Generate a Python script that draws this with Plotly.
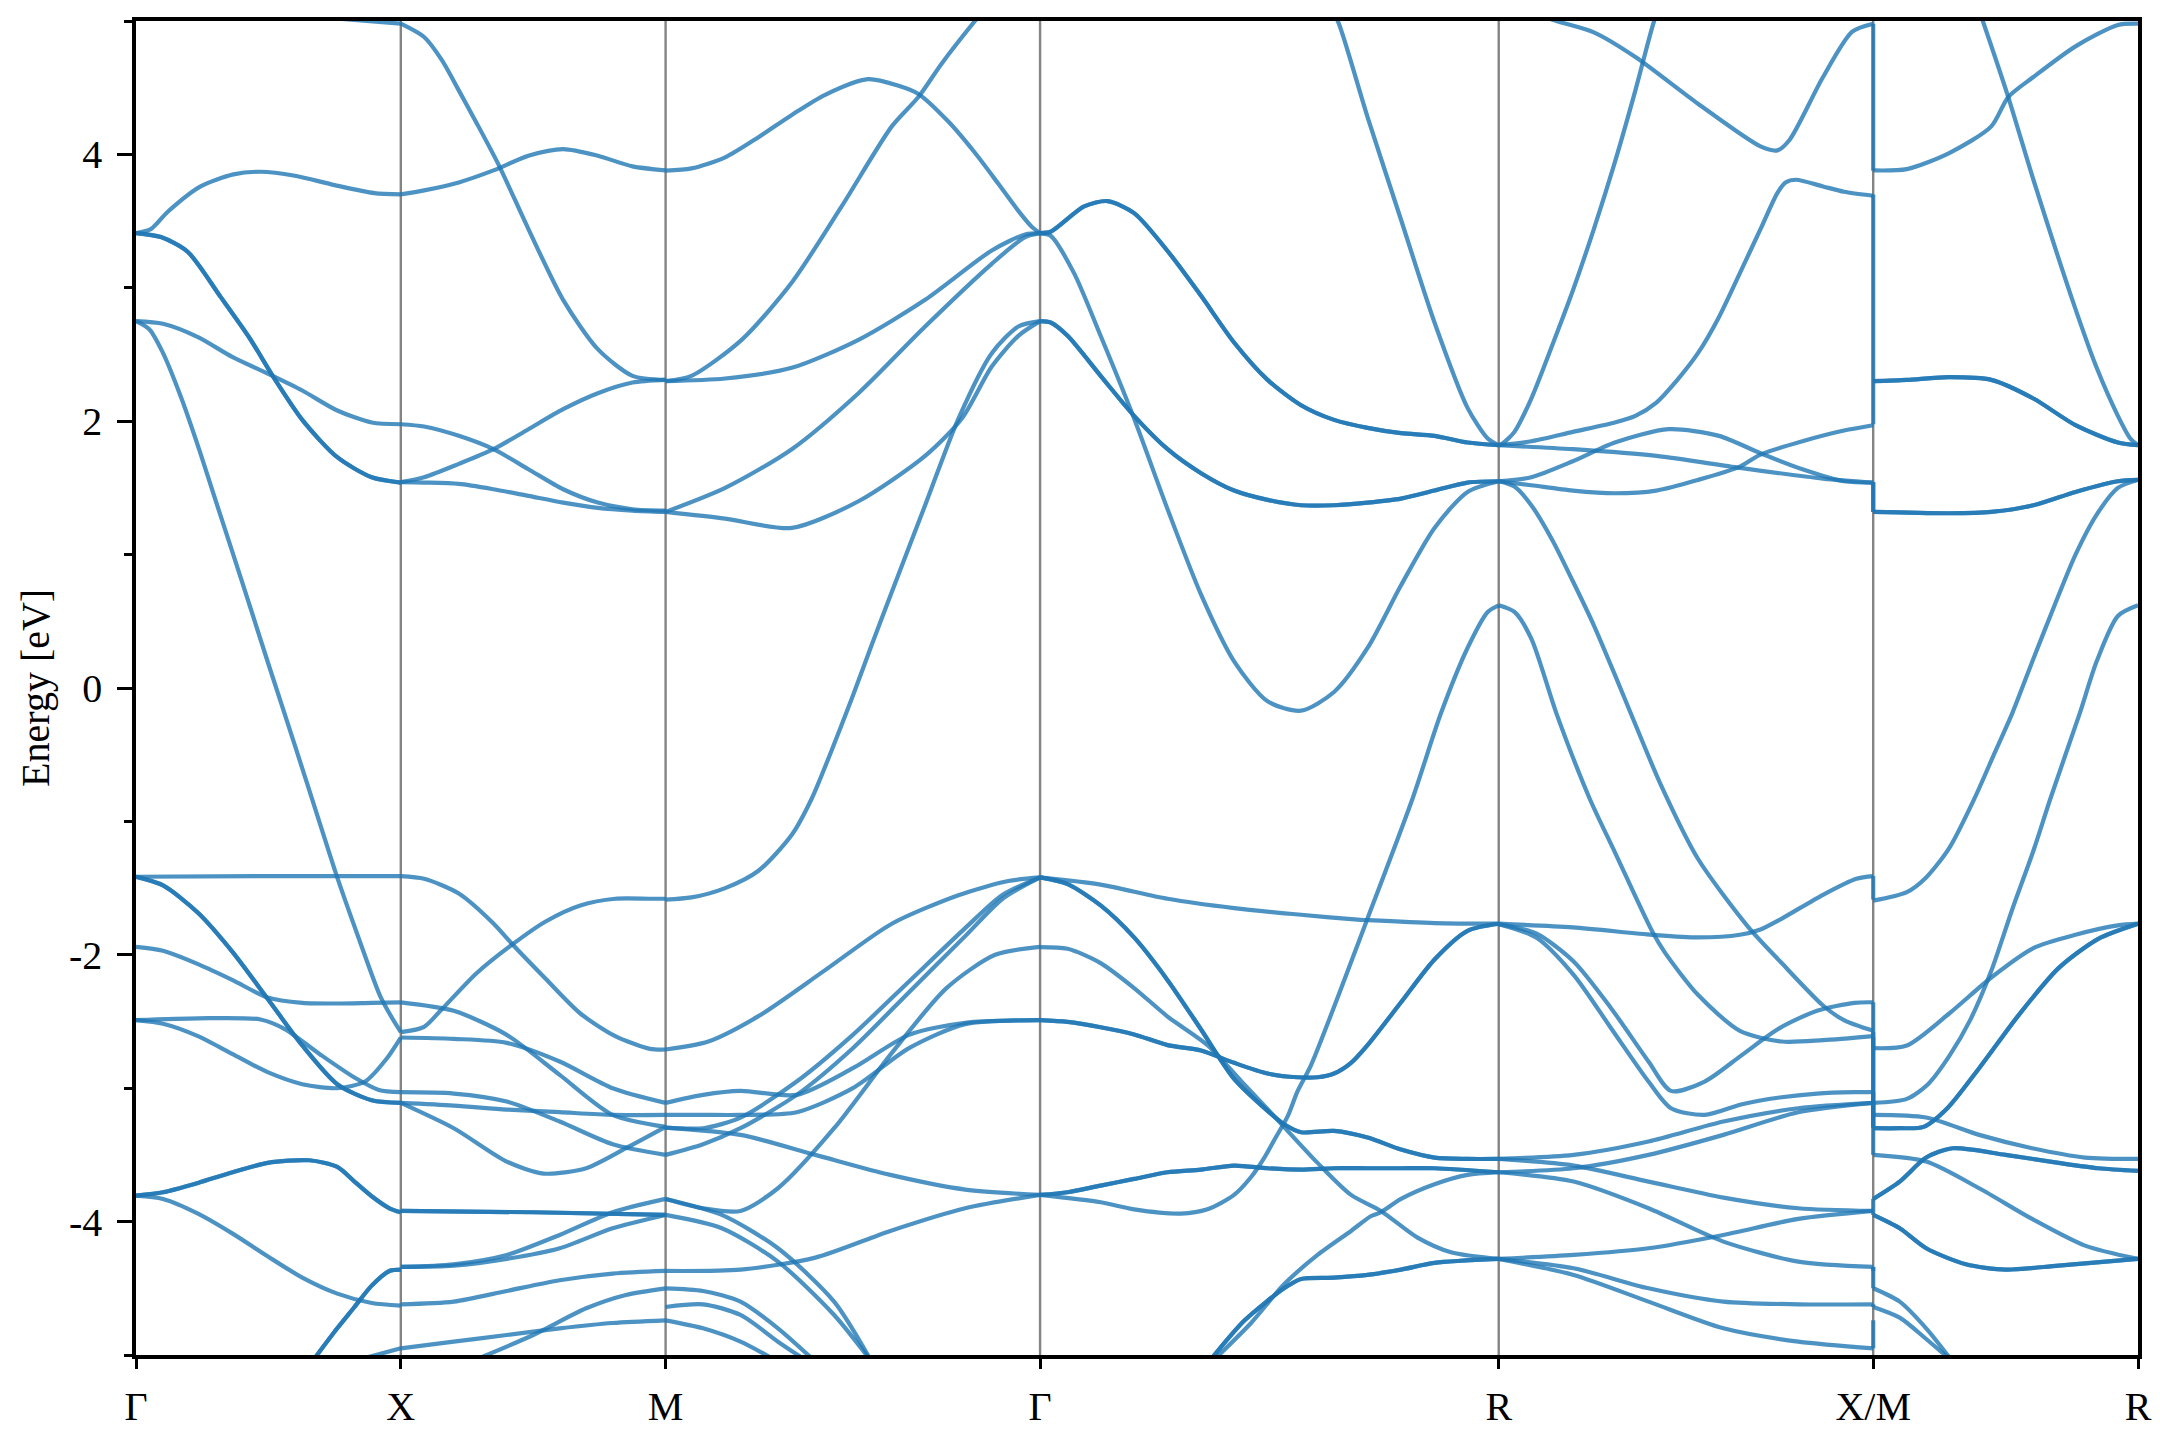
import plotly.graph_objects as go

# ---------------- k-path ----------------
K_LABELS = ["Γ", "X", "M", "Γ", "R", "X/M", "R"]
K_POS = [0.0, 0.5, 1.0, 1.7071, 2.5731, 3.2802, 3.7802]

Y_TICKS = [-4, -2, 0, 2, 4]
Y_TICK_TEXT = ["-4", "-2", "0", "2", "4"]
Y_MINOR = [-5, -3, -1, 1, 3, 5]

# Each band curve: (fractions along segment, energies in eV, degeneracy)
GX = [
    ([0.75, 1.0], [5.02, 4.98], 1),
    ([0, 0.056, 0.12, 0.244, 0.368, 0.47, 0.6, 0.75, 0.9, 1],
     [3.41, 3.44, 3.57, 3.76, 3.85, 3.87, 3.84, 3.77, 3.71, 3.70], 1),
    ([0, 0.094, 0.195, 0.32, 0.43, 0.516, 0.628, 0.76, 0.89, 1],
     [3.41, 3.38, 3.27, 2.93, 2.62, 2.34, 2.01, 1.73, 1.58, 1.54], 2),
    ([0, 0.102, 0.234, 0.365, 0.516, 0.628, 0.76, 0.89, 1],
     [2.75, 2.73, 2.63, 2.48, 2.34, 2.23, 2.08, 1.99, 1.977], 1),
    ([0, 0.05, 0.1, 0.17, 0.24, 0.3, 0.4, 0.5, 0.6, 0.7, 0.76, 0.84, 0.92, 0.96, 1.0],
     [2.75, 2.69, 2.52, 2.18, 1.78, 1.41, 0.80, 0.18, -0.43, -1.05, -1.42, -1.87, -2.30, -2.45, -2.58], 1),
    ([0, 0.5, 1], [-1.415, -1.41, -1.41], 1),
    ([0, 0.102, 0.234, 0.365, 0.497, 0.628, 0.76, 0.89, 1],
     [-1.416, -1.48, -1.685, -1.98, -2.33, -2.68, -2.97, -3.09, -3.11], 2),
    ([0, 0.102, 0.234, 0.365, 0.497, 0.628, 0.76, 0.89, 1],
     [-1.94, -1.97, -2.07, -2.19, -2.32, -2.36, -2.365, -2.36, -2.356], 1),
    ([0, 0.234, 0.47, 0.562, 0.694, 0.825, 0.917, 1],
     [-2.49, -2.476, -2.485, -2.557, -2.745, -2.92, -3.013, -3.03], 1),
    ([0, 0.102, 0.234, 0.365, 0.497, 0.628, 0.76, 0.865, 0.944, 1],
     [-2.49, -2.517, -2.61, -2.745, -2.88, -2.97, -3.0, -2.95, -2.785, -2.62], 1),
    ([0, 0.102, 0.234, 0.365, 0.497, 0.654, 0.76, 0.825, 0.89, 0.957, 1],
     [-3.805, -3.78, -3.71, -3.63, -3.56, -3.54, -3.59, -3.70, -3.81, -3.90, -3.93], 2),
    ([0, 0.102, 0.234, 0.365, 0.497, 0.628, 0.76, 0.89, 1],
     [-3.805, -3.83, -3.94, -4.09, -4.26, -4.42, -4.54, -4.61, -4.63], 1),
    ([0.68, 0.76, 0.825, 0.89, 0.957, 1],
     [-5.01, -4.80, -4.64, -4.48, -4.37, -4.36], 2),
    ([0.85, 1], [-5.03, -4.95], 1),
]

XM = [
    ([0, 0.088, 0.154, 0.219, 0.285, 0.37, 0.482, 0.613, 0.744, 0.875, 1],
     [4.98, 4.88, 4.71, 4.48, 4.24, 3.92, 3.44, 2.91, 2.54, 2.34, 2.31], 1),
    ([0, 0.088, 0.219, 0.35, 0.482, 0.613, 0.744, 0.875, 1],
     [3.70, 3.73, 3.79, 3.88, 3.99, 4.04, 3.99, 3.91, 3.88], 1),
    ([0, 0.088, 0.219, 0.35, 0.482, 0.613, 0.744, 0.875, 1],
     [1.977, 1.96, 1.89, 1.79, 1.64, 1.49, 1.39, 1.34, 1.33], 1),
    ([0, 0.088, 0.219, 0.35, 0.482, 0.613, 0.744, 0.875, 1],
     [1.543, 1.58, 1.68, 1.79, 1.94, 2.09, 2.21, 2.29, 2.31], 1),
    ([0, 0.088, 0.219, 0.35, 0.482, 0.613, 0.744, 0.875, 1],
     [1.543, 1.54, 1.53, 1.49, 1.44, 1.39, 1.35, 1.33, 1.32], 1),
    ([0, 0.088, 0.219, 0.35, 0.416, 0.547, 0.678, 0.81, 0.941, 1],
     [-1.41, -1.43, -1.54, -1.765, -1.91, -2.18, -2.44, -2.61, -2.705, -2.71], 1),
    ([0, 0.088, 0.154, 0.285, 0.416, 0.547, 0.678, 0.81, 0.941, 1],
     [-2.58, -2.54, -2.41, -2.14, -1.93, -1.75, -1.63, -1.58, -1.58, -1.58], 1),
    ([0, 0.2, 0.4, 0.6, 0.8, 1], [-2.356, -2.42, -2.6, -2.9, -3.2, -3.29], 1),
    ([0, 0.2, 0.4, 0.6, 0.8, 1], [-2.62, -2.63, -2.66, -2.8, -3.0, -3.11], 1),
    ([0, 0.2, 0.4, 0.6, 0.8, 1], [-3.03, -3.04, -3.1, -3.25, -3.42, -3.50], 1),
    ([0, 0.2, 0.4, 0.6, 0.8, 1], [-3.11, -3.13, -3.16, -3.18, -3.20, -3.20], 1),
    ([0, 0.2, 0.4, 0.54, 0.7, 0.85, 1], [-3.11, -3.3, -3.55, -3.64, -3.6, -3.45, -3.29], 1),
    ([0, 0.5, 1], [-3.92, -3.93, -3.95], 2),
    ([0, 0.2, 0.4, 0.6, 0.8, 1], [-4.34, -4.32, -4.25, -4.1, -3.93, -3.83], 1),
    ([0, 0.2, 0.4, 0.6, 0.8, 1], [-4.34, -4.33, -4.28, -4.2, -4.05, -3.95], 1),
    ([0, 0.2, 0.4, 0.6, 0.8, 1], [-4.62, -4.60, -4.52, -4.44, -4.39, -4.37], 1),
    ([0, 0.2, 0.4, 0.6, 0.8, 1], [-4.95, -4.90, -4.85, -4.80, -4.76, -4.74], 1),
    ([0.3, 0.5, 0.7, 0.85, 1], [-5.02, -4.85, -4.65, -4.55, -4.50], 1),
]

MG = [
    ([0, 0.069, 0.159, 0.248, 0.337, 0.426, 0.541, 0.622, 0.675, 0.755, 0.826, 0.889, 0.942, 0.977, 1],
     [3.878, 3.895, 3.978, 4.129, 4.296, 4.447, 4.564, 4.514, 4.453, 4.246, 4.012, 3.778, 3.577, 3.46, 3.41], 1),
    ([0, 0.069, 0.203, 0.337, 0.47, 0.604, 0.675, 0.737, 0.826, 0.85],
     [2.30, 2.34, 2.61, 3.04, 3.61, 4.21, 4.43, 4.68, 5.0, 5.08], 1),
    ([0, 0.159, 0.337, 0.515, 0.693, 0.871, 0.96, 1],
     [2.30, 2.32, 2.40, 2.61, 2.91, 3.28, 3.40, 3.41], 1),
    ([0, 0.159, 0.337, 0.515, 0.693, 0.871, 0.96, 1],
     [1.32, 1.50, 1.79, 2.21, 2.71, 3.18, 3.38, 3.41], 1),
    ([0, 0.159, 0.337, 0.515, 0.693, 0.791, 0.871, 0.942, 1],
     [1.32, 1.27, 1.20, 1.40, 1.74, 2.02, 2.41, 2.64, 2.75], 1),
    ([0, 0.069, 0.159, 0.248, 0.337, 0.39, 0.443, 0.497, 0.55, 0.604, 0.693, 0.782, 0.871, 0.942, 1],
     [-1.586, -1.57, -1.50, -1.37, -1.10, -0.83, -0.47, -0.08, 0.32, 0.72, 1.37, 2.02, 2.51, 2.71, 2.75], 1),
    ([0, 0.114, 0.248, 0.426, 0.604, 0.782, 0.915, 1],
     [-2.71, -2.65, -2.46, -2.115, -1.767, -1.553, -1.447, -1.42], 1),
    ([0, 0.1, 0.2, 0.35, 0.5, 0.65, 0.8, 0.9, 1],
     [-3.295, -3.30, -3.22, -2.95, -2.6, -2.2, -1.8, -1.55, -1.42], 1),
    ([0, 0.1, 0.2, 0.35, 0.5, 0.65, 0.8, 0.9, 1],
     [-3.50, -3.42, -3.3, -3.05, -2.7, -2.28, -1.86, -1.58, -1.42], 1),
    ([0, 0.1, 0.2, 0.3, 0.45, 0.6, 0.75, 0.88, 1],
     [-3.83, -3.90, -3.92, -3.75, -3.3, -2.75, -2.25, -2.0, -1.94], 1),
    ([0, 0.1, 0.2, 0.35, 0.5, 0.65, 0.8, 1],
     [-3.11, -3.05, -3.02, -3.05, -2.85, -2.6, -2.51, -2.49], 1),
    ([0, 0.1, 0.2, 0.35, 0.5, 0.65, 0.8, 1],
     [-3.20, -3.20, -3.20, -3.18, -3.0, -2.7, -2.52, -2.49], 1),
    ([0, 0.2, 0.4, 0.6, 0.8, 1], [-3.295, -3.35, -3.5, -3.65, -3.76, -3.80], 1),
    ([0, 0.2, 0.4, 0.6, 0.8, 1], [-4.37, -4.36, -4.27, -4.07, -3.90, -3.80], 1),
    ([0, 0.15, 0.3, 0.45, 0.55], [-3.95, -4.05, -4.3, -4.7, -5.05], 1),
    ([0, 0.15, 0.3, 0.45, 0.55], [-3.83, -3.95, -4.2, -4.6, -5.05], 1),
    ([0, 0.1, 0.2, 0.3, 0.4], [-4.50, -4.52, -4.6, -4.8, -5.05], 1),
    ([0, 0.1, 0.2, 0.3, 0.38], [-4.64, -4.62, -4.7, -4.9, -5.05], 1),
    ([0, 0.1, 0.2, 0.3], [-4.74, -4.8, -4.9, -5.05], 1),
]

GR = [
    ([0, 0.023, 0.096, 0.147, 0.205, 0.278, 0.351, 0.423, 0.496, 0.569, 0.641, 0.714, 0.787, 0.86, 0.932, 1],
     [3.41, 3.42, 3.61, 3.65, 3.56, 3.276, 2.94, 2.59, 2.31, 2.12, 2.01, 1.95, 1.91, 1.89, 1.84, 1.82], 2),
    ([0, 0.023, 0.074, 0.132, 0.205, 0.278, 0.351, 0.423, 0.496, 0.569, 0.641, 0.714, 0.787, 0.86, 0.932, 1],
     [3.41, 3.39, 3.11, 2.64, 2.02, 1.34, 0.70, 0.20, -0.10, -0.17, -0.03, 0.30, 0.77, 1.20, 1.47, 1.55], 1),
    ([0, 0.023, 0.06, 0.132, 0.205, 0.278, 0.351, 0.423, 0.496, 0.569, 0.641, 0.714, 0.787, 0.86, 0.932, 1],
     [2.75, 2.74, 2.64, 2.34, 2.04, 1.79, 1.61, 1.48, 1.41, 1.37, 1.37, 1.39, 1.42, 1.48, 1.54, 1.55], 2),
    ([0.64, 0.649, 0.714, 0.787, 0.86, 0.932, 0.976, 1],
     [5.04, 5.0, 4.28, 3.51, 2.74, 2.10, 1.87, 1.82], 1),
    ([0, 0.132, 0.278, 0.423, 0.569, 0.692, 0.714, 0.86, 1],
     [-1.42, -1.474, -1.58, -1.65, -1.70, -1.736, -1.74, -1.762, -1.767], 1),
    ([0, 0.06, 0.132, 0.205, 0.278, 0.351, 0.423, 0.496, 0.532, 0.569, 0.641, 0.714, 0.787, 0.86, 0.932, 1],
     [-1.42, -1.47, -1.63, -1.87, -2.19, -2.56, -2.93, -3.17, -3.27, -3.33, -3.32, -3.37, -3.46, -3.52, -3.53, -3.53], 2),
    ([0, 0.06, 0.132, 0.205, 0.278, 0.365, 0.438, 0.511, 0.605, 0.678, 0.743, 0.823, 0.896, 1],
     [-1.942, -1.955, -2.062, -2.249, -2.463, -2.677, -2.945, -3.212, -3.56, -3.80, -3.92, -4.12, -4.23, -4.28], 1),
    ([0, 0.06, 0.132, 0.205, 0.278, 0.351, 0.423, 0.496, 0.561, 0.605, 0.641, 0.678, 0.714, 0.787, 0.86, 0.932, 1],
     [-2.49, -2.503, -2.543, -2.597, -2.677, -2.717, -2.81, -2.89, -2.918, -2.918, -2.89, -2.81, -2.677, -2.356, -2.035, -1.82, -1.767], 2),
    ([0, 0.132, 0.205, 0.307, 0.365, 0.423, 0.46, 0.489, 0.511, 0.54, 0.561, 0.591, 0.714, 0.812, 0.874, 0.932, 0.976, 1],
     [-3.80, -3.855, -3.908, -3.94, -3.908, -3.80, -3.666, -3.52, -3.386, -3.21, -3.026, -2.825, -1.727, -0.83, -0.19, 0.30, 0.57, 0.62], 1),
    ([0, 0.06, 0.132, 0.205, 0.278, 0.351, 0.423, 0.496, 0.569, 0.641, 0.714, 0.787, 0.86, 1],
     [-3.80, -3.78, -3.73, -3.68, -3.63, -3.61, -3.58, -3.60, -3.61, -3.60, -3.60, -3.60, -3.60, -3.63], 2),
    ([0.381, 0.46, 0.532, 0.605, 0.678, 0.721, 0.743, 0.787, 0.86, 0.932, 1],
     [-5.03, -4.76, -4.47, -4.25, -4.07, -3.96, -3.93, -3.83, -3.72, -3.65, -3.63], 1),
    ([0.373, 0.446, 0.532, 0.569, 0.641, 0.714, 0.787, 0.86, 1],
     [-5.03, -4.74, -4.50, -4.43, -4.42, -4.40, -4.36, -4.31, -4.28], 2),
]

RX = [
    ([0, 0.009, 0.042, 0.087, 0.143, 0.198, 0.254, 0.31, 0.365, 0.415, 0.43],
     [1.82, 1.83, 1.92, 2.17, 2.57, 2.98, 3.44, 3.94, 4.48, 5.0, 5.1], 1),
    ([0.1, 0.154, 0.254, 0.365, 0.532, 0.699, 0.744, 0.777, 0.866, 0.944, 1],
     [5.05, 5.0, 4.915, 4.73, 4.38, 4.06, 4.03, 4.11, 4.58, 4.92, 4.98], 1),
    ([0, 0.087, 0.198, 0.31, 0.365, 0.421, 0.477, 0.532, 0.588, 0.644, 0.699, 0.744, 0.766, 0.794, 0.866, 0.922, 1],
     [1.82, 1.85, 1.92, 1.99, 2.04, 2.14, 2.31, 2.51, 2.78, 3.11, 3.44, 3.71, 3.79, 3.81, 3.76, 3.72, 3.69], 1),
    ([0, 0.198, 0.421, 0.644, 0.866, 1], [1.82, 1.79, 1.74, 1.65, 1.57, 1.54], 1),
    ([0, 0.087, 0.198, 0.31, 0.454, 0.588, 0.699, 0.811, 0.922, 1],
     [1.55, 1.58, 1.70, 1.84, 1.94, 1.89, 1.76, 1.64, 1.55, 1.54], 1),
    ([0, 0.087, 0.198, 0.31, 0.421, 0.532, 0.644, 0.699, 0.811, 0.922, 1],
     [1.55, 1.52, 1.48, 1.46, 1.48, 1.56, 1.66, 1.75, 1.85, 1.93, 1.97], 1),
    ([0, 0.042, 0.087, 0.143, 0.198, 0.254, 0.31, 0.36, 0.432, 0.532, 0.666, 0.755, 0.866, 0.922, 1],
     [1.55, 1.51, 1.37, 1.11, 0.80, 0.47, 0.10, -0.24, -0.72, -1.28, -1.79, -2.06, -2.38, -2.49, -2.57], 1),
    ([0, 0.042, 0.087, 0.154, 0.243, 0.31, 0.409, 0.443, 0.532, 0.644, 0.755, 0.866, 1],
     [0.62, 0.57, 0.37, -0.19, -0.83, -1.23, -1.82, -1.98, -2.30, -2.57, -2.65, -2.64, -2.61], 1),
    ([0, 0.198, 0.41, 0.532, 0.644, 0.699, 0.755, 0.866, 0.955, 1],
     [-1.767, -1.795, -1.85, -1.87, -1.85, -1.81, -1.73, -1.55, -1.43, -1.41], 1),
    ([0, 0.1, 0.2, 0.3, 0.4, 0.46, 0.55, 0.65, 0.75, 0.85, 0.95, 1],
     [-1.77, -1.84, -2.05, -2.4, -2.8, -3.02, -2.95, -2.75, -2.55, -2.42, -2.36, -2.356], 1),
    ([0, 0.1, 0.2, 0.3, 0.4, 0.46, 0.55, 0.65, 0.75, 0.85, 0.95, 1],
     [-1.77, -1.87, -2.15, -2.55, -2.95, -3.15, -3.2, -3.12, -3.07, -3.04, -3.03, -3.03], 1),
    ([0, 0.2, 0.4, 0.6, 0.8, 1], [-3.53, -3.5, -3.4, -3.25, -3.15, -3.11], 1),
    ([0, 0.2, 0.4, 0.6, 0.8, 1], [-3.53, -3.58, -3.7, -3.82, -3.9, -3.92], 1),
    ([0, 0.2, 0.4, 0.6, 0.8, 1], [-3.63, -3.6, -3.5, -3.35, -3.18, -3.11], 1),
    ([0, 0.2, 0.4, 0.6, 0.8, 1], [-3.63, -3.7, -3.9, -4.15, -4.3, -4.34], 1),
    ([0, 0.2, 0.4, 0.6, 0.8, 1], [-4.28, -4.25, -4.2, -4.1, -3.98, -3.92], 1),
    ([0, 0.2, 0.4, 0.6, 0.8, 1], [-4.28, -4.35, -4.5, -4.6, -4.62, -4.62], 1),
    ([0, 0.2, 0.4, 0.6, 0.8, 1], [-4.28, -4.4, -4.6, -4.8, -4.9, -4.95], 1),
]

MR = [
    ([0, 0.127, 0.287, 0.446, 0.51, 0.605, 0.764, 0.924, 1],
     [3.88, 3.89, 4.01, 4.21, 4.43, 4.58, 4.81, 4.97, 4.98], 1),
    ([0.40, 0.414, 0.51, 0.605, 0.764, 0.844, 0.924, 0.971, 1],
     [5.08, 5.0, 4.43, 3.81, 2.84, 2.40, 2.04, 1.87, 1.82], 1),
    ([0, 0.127, 0.287, 0.446, 0.605, 0.764, 0.924, 1],
     [2.30, 2.31, 2.33, 2.31, 2.17, 1.97, 1.84, 1.82], 2),
    ([0, 0.287, 0.446, 0.605, 0.764, 0.924, 1],
     [1.32, 1.31, 1.32, 1.37, 1.47, 1.55, 1.56], 2),
    ([0, 0.127, 0.2, 0.287, 0.382, 0.46, 0.525, 0.605, 0.685, 0.764, 0.844, 0.924, 1],
     [-1.594, -1.53, -1.42, -1.2, -0.83, -0.48, -0.19, 0.22, 0.62, 1.0, 1.30, 1.50, 1.56], 1),
    ([0, 0.127, 0.207, 0.287, 0.366, 0.446, 0.525, 0.605, 0.669, 0.78, 0.844, 0.924, 1],
     [-3.11, -3.08, -2.97, -2.76, -2.49, -2.12, -1.66, -1.22, -0.83, -0.19, 0.20, 0.54, 0.62], 1),
    ([0, 0.127, 0.287, 0.446, 0.605, 0.764, 0.924, 1],
     [-2.70, -2.68, -2.44, -2.17, -1.95, -1.85, -1.78, -1.767], 1),
    ([0, 0.1, 0.19, 0.28, 0.4, 0.55, 0.7, 0.85, 1],
     [-3.30, -3.30, -3.29, -3.15, -2.85, -2.45, -2.1, -1.88, -1.767], 2),
    ([0, 0.2, 0.4, 0.6, 0.8, 1], [-3.20, -3.22, -3.35, -3.45, -3.52, -3.53], 1),
    ([0, 0.1, 0.2, 0.3, 0.5, 0.7, 0.85, 1], [-3.83, -3.70, -3.52, -3.45, -3.50, -3.56, -3.60, -3.62], 2),
    ([0, 0.2, 0.4, 0.6, 0.8, 1], [-3.50, -3.55, -3.75, -3.98, -4.18, -4.28], 1),
    ([0, 0.1, 0.2, 0.35, 0.5, 0.7, 1], [-3.95, -4.05, -4.2, -4.32, -4.36, -4.33, -4.28], 2),
    ([0, 0.1, 0.2, 0.3], [-4.50, -4.6, -4.8, -5.05], 1),
    ([0, 0.1, 0.2, 0.3], [-4.64, -4.72, -4.88, -5.05], 1),
]

SEGMENTS = [(0, GX), (1, XM), (2, MG), (3, GR), (4, RX), (5, MR)]

# sorted band energies at the X | M discontinuity (joined by vertical jumps)
X_JUMP = [4.98, 3.70, 1.977, 1.543, 1.543, -1.41, -2.356, -2.58, -2.62, -3.03, -3.11, -3.11,
          -3.92, -3.92, -4.34, -4.34, -4.62, -4.95]
M_JUMP = [3.878, 2.30, 2.30, 1.32, 1.32, -1.586, -2.71, -3.11, -3.20, -3.295, -3.295, -3.50,
          -3.83, -3.95, -4.37, -4.50, -4.64, -4.74]

BAND_COLOR = "rgba(31,119,180,0.80)"
SERIF = "Liberation Serif, Times New Roman, serif"
LINE_W = 4.2

fig = go.Figure()

# high-symmetry vertical lines
for kp in K_POS[1:-1]:
    fig.add_trace(go.Scatter(x=[kp, kp], y=[-5, 5], mode="lines",
                             line=dict(color="rgba(110,110,110,0.85)", width=2.4),
                             hoverinfo="skip", showlegend=False))

for seg_idx, curves in SEGMENTS:
    k0, k1 = K_POS[seg_idx], K_POS[seg_idx + 1]
    for ts, es, deg in curves:
        xs = [k0 + t * (k1 - k0) for t in ts]
        for _ in range(deg):
            fig.add_trace(go.Scatter(x=xs, y=es, mode="lines",
                                     line=dict(color=BAND_COLOR, width=LINE_W, shape="spline", smoothing=0.75),
                                     hoverinfo="skip", showlegend=False))

kxm = K_POS[5]
for ex, em in zip(X_JUMP, M_JUMP):
    fig.add_trace(go.Scatter(x=[kxm, kxm], y=[ex, em], mode="lines",
                             line=dict(color=BAND_COLOR, width=LINE_W),
                             hoverinfo="skip", showlegend=False))

fig.update_layout(
    width=2152, height=1432,
    margin=dict(l=128, r=22, t=13, b=85),
    paper_bgcolor="white", plot_bgcolor="white",
    font=dict(family=SERIF, size=40, color="black"),
    showlegend=False,
    annotations=[dict(text="Energy [eV]", textangle=-90, xref="paper", yref="paper",
                      x=-0.0505, y=0.5, xanchor="center", yanchor="middle", showarrow=False,
                      font=dict(family=SERIF, size=40, color="black"))],
)
fig.update_xaxes(range=[K_POS[0], K_POS[-1]], tickvals=K_POS, ticktext=K_LABELS,
                 showgrid=False, zeroline=False, showline=True, linecolor="black", linewidth=3.5,
                 mirror=True, ticks="outside", ticklen=10, tickwidth=3, tickcolor="black",
                 ticklabelstandoff=3, automargin=False,
                 tickfont=dict(family=SERIF, size=40))
fig.update_yaxes(range=[-5, 5], tickvals=Y_TICKS, ticktext=Y_TICK_TEXT,
                 showgrid=False, zeroline=False, showline=True, linecolor="black", linewidth=3.5,
                 mirror=True, ticks="outside", ticklen=15, tickwidth=3.3, tickcolor="black",
                 ticklabelstandoff=7, automargin=False,
                 tickfont=dict(family=SERIF, size=40),
                 minor=dict(tickvals=Y_MINOR, ticks="outside", ticklen=8, tickwidth=3, tickcolor="black"))

fig.write_html("out.html")
